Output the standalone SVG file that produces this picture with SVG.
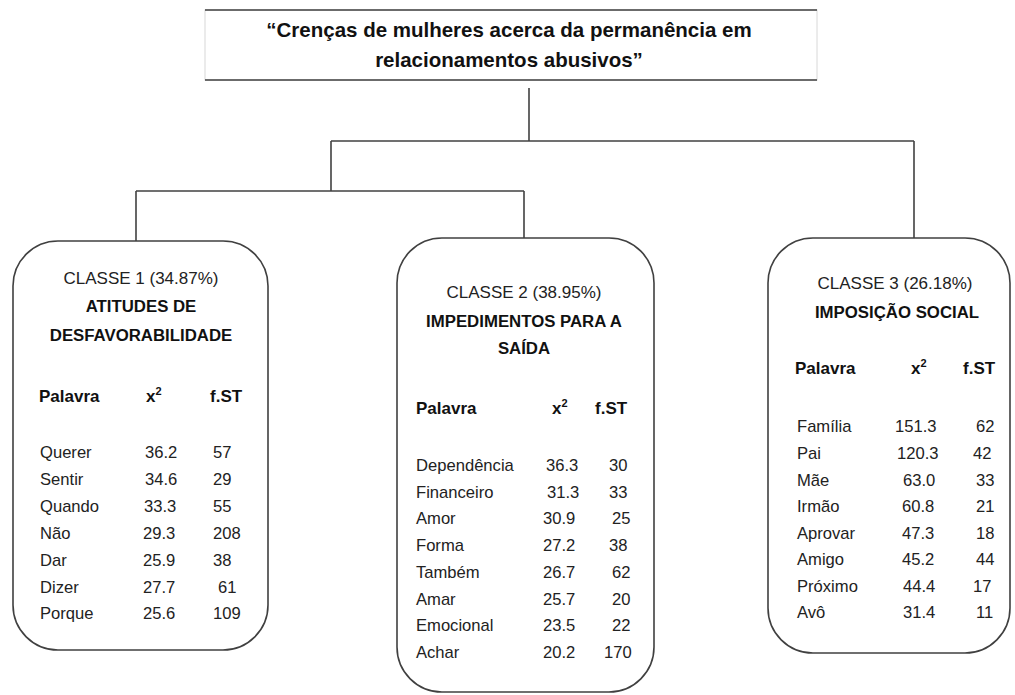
<svg xmlns="http://www.w3.org/2000/svg" width="1015" height="695" viewBox="0 0 1015 695">
<style>
.bg{fill:#ffffff}
.ln{stroke:#404040;stroke-width:1.6;fill:none}
.box{stroke:#404040;stroke-width:1.6;fill:#ffffff}
.title{font-family:"Liberation Sans",Arial,sans-serif;font-weight:bold;font-size:20.5px;fill:#111;text-anchor:middle}
.cls{font-family:"Liberation Sans",Arial,sans-serif;font-size:17px;fill:#222;text-anchor:middle}
.name{font-family:"Liberation Sans",Arial,sans-serif;font-weight:bold;font-size:16.8px;fill:#111;text-anchor:middle}
.hd{font-family:"Liberation Sans",Arial,sans-serif;font-weight:bold;font-size:17px;fill:#111}
.d{font-family:"Liberation Sans",Arial,sans-serif;font-size:16.6px;fill:#222}
.sup{font-size:11px}
</style>
<rect class="bg" x="0" y="0" width="1015" height="695"/>

<g id="title">
<rect x="205" y="10" width="612" height="70" fill="#fff" stroke="#d8d8d8" stroke-width="1"/>
<line class="ln" x1="205" y1="10" x2="817" y2="10"/>
<line class="ln" x1="205" y1="80" x2="817" y2="80"/>
<text class="title" x="509" y="37">“Crenças de mulheres acerca da permanência em</text>
<text class="title" x="509" y="67">relacionamentos abusivos”</text>
</g>

<g id="connectors">
<polyline class="ln" points="529,88 529,141"/>
<polyline class="ln" points="331,141 914,141"/>
<polyline class="ln" points="914,141 914,238"/>
<polyline class="ln" points="331,141 331,191"/>
<polyline class="ln" points="136,191 524,191"/>
<polyline class="ln" points="136,191 136,241"/>
<polyline class="ln" points="524,191 524,238"/>
</g>

<g id="classe1">
<rect class="box" x="13" y="241" width="255" height="409" rx="45" ry="45"/>
<text class="cls" x="141" y="284">CLASSE 1 (34.87%)</text>
<text class="name" x="141" y="312">ATITUDES DE</text>
<text class="name" x="141" y="341">DESFAVORABILIDADE</text>
<text class="hd" x="39" y="402">Palavra</text>
<text class="hd" x="146" y="402">x<tspan class="sup" dy="-7">2</tspan></text>
<text class="hd" x="210" y="402">f.ST</text>
<text class="d" x="40" y="458">Querer</text><text class="d" x="145" y="458">36.2</text><text class="d" x="213" y="458">57</text>
<text class="d" x="40" y="485">Sentir</text><text class="d" x="145" y="485">34.6</text><text class="d" x="213" y="485">29</text>
<text class="d" x="40" y="512">Quando</text><text class="d" x="144" y="512">33.3</text><text class="d" x="213" y="512">55</text>
<text class="d" x="40" y="539">Não</text><text class="d" x="143" y="539">29.3</text><text class="d" x="213" y="539">208</text>
<text class="d" x="40" y="566">Dar</text><text class="d" x="143" y="566">25.9</text><text class="d" x="213" y="566">38</text>
<text class="d" x="40" y="593">Dizer</text><text class="d" x="143" y="593">27.7</text><text class="d" x="218" y="593">61</text>
<text class="d" x="40" y="619">Porque</text><text class="d" x="143" y="619">25.6</text><text class="d" x="213" y="619">109</text>
</g>

<g id="classe2">
<rect class="box" x="397" y="238" width="257" height="454" rx="45" ry="45"/>
<text class="cls" x="524" y="298">CLASSE 2 (38.95%)</text>
<text class="name" x="524" y="327">IMPEDIMENTOS PARA A</text>
<text class="name" x="524" y="354">SAÍDA</text>
<text class="hd" x="416" y="414">Palavra</text>
<text class="hd" x="552" y="414">x<tspan class="sup" dy="-7">2</tspan></text>
<text class="hd" x="595" y="414">f.ST</text>
<text class="d" x="416" y="471">Dependência</text><text class="d" x="546" y="471">36.3</text><text class="d" x="609" y="471">30</text>
<text class="d" x="416" y="498">Financeiro</text><text class="d" x="547" y="498">31.3</text><text class="d" x="609" y="498">33</text>
<text class="d" x="416" y="524">Amor</text><text class="d" x="543" y="524">30.9</text><text class="d" x="612" y="524">25</text>
<text class="d" x="416" y="551">Forma</text><text class="d" x="543" y="551">27.2</text><text class="d" x="609" y="551">38</text>
<text class="d" x="416" y="578">Também</text><text class="d" x="543" y="578">26.7</text><text class="d" x="612" y="578">62</text>
<text class="d" x="416" y="605">Amar</text><text class="d" x="543" y="605">25.7</text><text class="d" x="612" y="605">20</text>
<text class="d" x="416" y="631">Emocional</text><text class="d" x="543" y="631">23.5</text><text class="d" x="612" y="631">22</text>
<text class="d" x="416" y="658">Achar</text><text class="d" x="543" y="658">20.2</text><text class="d" x="604" y="658">170</text>
</g>

<g id="classe3">
<rect class="box" x="768" y="238" width="242" height="415" rx="45" ry="45"/>
<text class="cls" x="895" y="289">CLASSE 3 (26.18%)</text>
<text class="name" x="897" y="318">IMPOSIÇÃO SOCIAL</text>
<text class="hd" x="795" y="374">Palavra</text>
<text class="hd" x="911" y="374">x<tspan class="sup" dy="-7">2</tspan></text>
<text class="hd" x="963" y="374">f.ST</text>
<text class="d" x="797" y="432">Família</text><text class="d" x="895" y="432">151.3</text><text class="d" x="976" y="432">62</text>
<text class="d" x="797" y="459">Pai</text><text class="d" x="897" y="459">120.3</text><text class="d" x="973" y="459">42</text>
<text class="d" x="797" y="486">Mãe</text><text class="d" x="903" y="486">63.0</text><text class="d" x="976" y="486">33</text>
<text class="d" x="797" y="512">Irmão</text><text class="d" x="902" y="512">60.8</text><text class="d" x="976" y="512">21</text>
<text class="d" x="797" y="539">Aprovar</text><text class="d" x="902" y="539">47.3</text><text class="d" x="976" y="539">18</text>
<text class="d" x="797" y="565">Amigo</text><text class="d" x="902" y="565">45.2</text><text class="d" x="976" y="565">44</text>
<text class="d" x="797" y="592">Próximo</text><text class="d" x="903" y="592">44.4</text><text class="d" x="973" y="592">17</text>
<text class="d" x="797" y="618">Avô</text><text class="d" x="903" y="618">31.4</text><text class="d" x="976" y="618">11</text>
</g>
</svg>
